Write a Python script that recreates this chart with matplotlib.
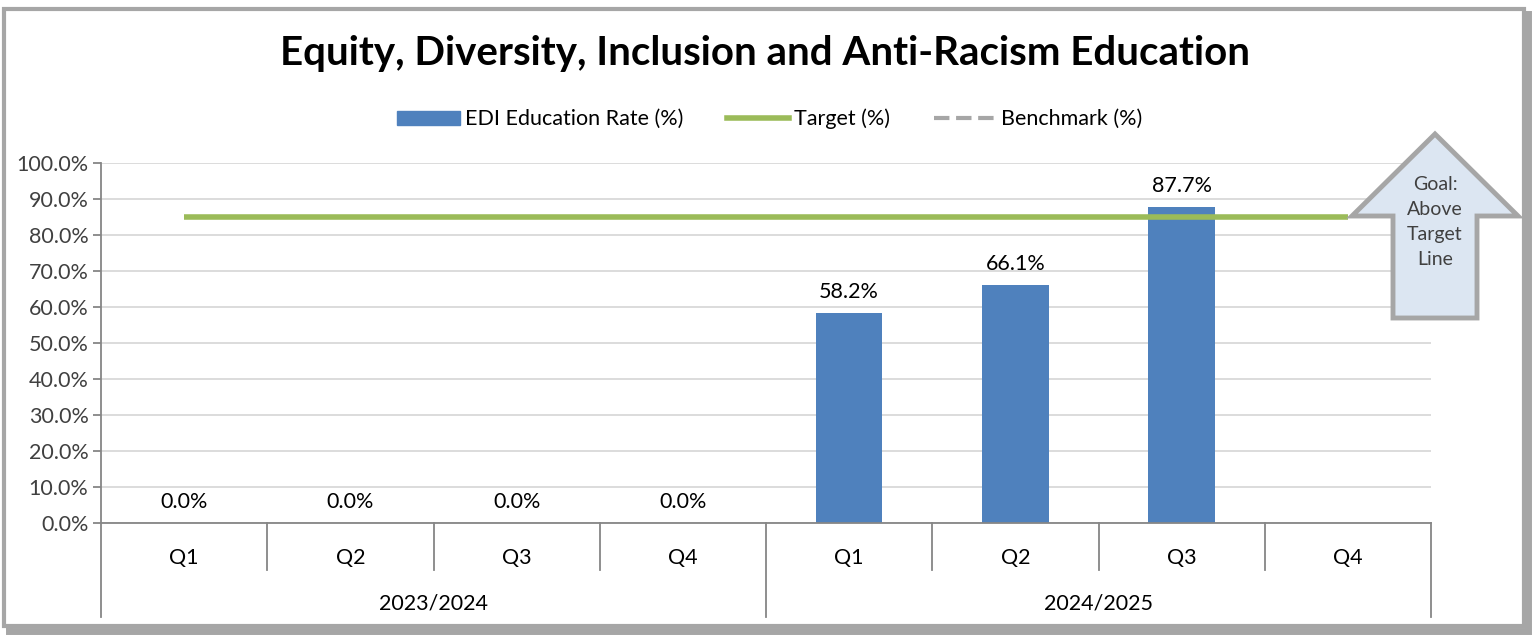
import numpy as np
import matplotlib
matplotlib.use('Agg')
import matplotlib.pyplot as plt
from matplotlib.patches import Rectangle, Polygon
from matplotlib.lines import Line2D
import matplotlib.transforms as mtransforms

plt.rcParams['font.family'] = ['Lato', 'DejaVu Sans']

quarters = ['Q1', 'Q2', 'Q3', 'Q4', 'Q1', 'Q2', 'Q3', 'Q4']
years = ['2023/2024', '2024/2025']
edi_rate = [0.0, 0.0, 0.0, 0.0, 58.2, 66.1, 87.7, np.nan]
target = [85, 85, 85, 85, 85, 85, 85, 85]
benchmark = [np.nan] * 8

W, H = 1534, 635
fig = plt.figure(figsize=(W / 100, H / 100), dpi=100)

# outer frame + overlay in pixel coords
over = fig.add_axes([0, 0, 1, 1], zorder=0)
over.set_xlim(0, W)
over.set_ylim(H, 0)
over.axis('off')
over.add_patch(Rectangle((9, 14), W - 9 - 6, H - 14 - 4, fill=False, ec='#A6A6A6', lw=5))
over.add_patch(Rectangle((4, 9), W - 4 - 10, H - 9 - 9, fc='white', ec='#A6A6A6', lw=3))

x = np.arange(len(quarters))
ax = fig.add_axes([101 / W, 1 - 523 / H, 1330 / W, 360 / H], zorder=2)
ax.patch.set_alpha(0)

bars = ax.bar(x, edi_rate, width=0.4, color='#4F81BD', zorder=2)
ax.plot(x, target, color='#9BBB59', lw=4, zorder=3, solid_capstyle='butt')
ax.plot(x, benchmark, color='#A6A6A6', lw=3, ls='--', zorder=3)

for xi, v in zip(x, edi_rate):
    if np.isnan(v):
        continue
    ax.annotate(f'{v:.1f}%', (xi, v), xytext=(0, 8), textcoords='offset points',
                ha='center', va='bottom', fontsize=15.5, color='#000000')

ax.set_xlim(-0.5, len(quarters) - 0.5)
ax.set_ylim(0, 100)
ax.set_yticks(np.arange(0, 101, 10))
ax.set_yticklabels([f'{t:.1f}%' for t in np.arange(0, 101, 10)], fontsize=15.5, color='#404040')
ax.yaxis.grid(True, color='#D9D9D9', lw=1.3)
ax.set_axisbelow(True)
ax.tick_params(axis='y', length=6, color='#868686', width=1.3, pad=3)
for s in ['top', 'right']:
    ax.spines[s].set_visible(False)
ax.spines['left'].set_color('#868686')
ax.spines['left'].set_linewidth(1.3)
ax.spines['bottom'].set_color('#868686')
ax.spines['bottom'].set_linewidth(1.3)

# two-level category axis
ax.set_xticks(x)
ax.set_xticklabels(quarters, fontsize=15.5, color='#000000')
ax.tick_params(axis='x', length=0, pad=18)
trans = mtransforms.blended_transform_factory(ax.transData, ax.transAxes)
for b in np.arange(0.5, len(quarters) - 1, 1):
    if b == 3.5:
        continue
    ax.plot([b, b], [0, -0.13], transform=trans, color='#868686', lw=1.3, clip_on=False)
for b in [-0.5, 3.5, 7.5]:
    ax.plot([b, b], [0, -0.26], transform=trans, color='#868686', lw=1.3, clip_on=False)
for i, yr in enumerate(years):
    ax.text(1.5 + 4 * i, -0.225, yr, transform=trans, ha='center', va='center',
            fontsize=15.5, color='#000000')

# title
fig.text(765 / W, 1 - 54 / H, 'Equity, Diversity, Inclusion and Anti-Racism Education',
         ha='center', va='center', fontsize=29, fontweight='bold')

# legend
handles = [Rectangle((0, 0), 1, 1, color='#4F81BD'),
           Line2D([], [], color='#9BBB59', lw=4),
           Line2D([], [], color='#A6A6A6', lw=3, ls='--')]
labels = ['EDI Education Rate (%)', 'Target (%)', 'Benchmark (%)']
fig.legend(handles, labels, loc='center', bbox_to_anchor=(770 / W, 1 - 119 / H), ncol=3,
           frameon=False, fontsize=15.5, handlelength=2.9, handleheight=0.6,
           columnspacing=2.0, handletextpad=0.25)

# goal arrow
arrow = Polygon([(1435, 134), (1518, 216), (1477, 216), (1477, 318),
                 (1393, 318), (1393, 216), (1352, 216)],
                closed=True, fc='#DCE6F2', ec='#A6A6A6', lw=3.5, zorder=5)
over2 = fig.add_axes([0, 0, 1, 1], zorder=5)
over2.set_xlim(0, W)
over2.set_ylim(H, 0)
over2.axis('off')
over2.add_patch(arrow)
over2.text(1435, 222, 'Goal:\nAbove\nTarget\nLine', ha='center', va='center',
           fontsize=14, color='#404040', linespacing=1.55, zorder=6)

fig.savefig('out.png', dpi=100)
